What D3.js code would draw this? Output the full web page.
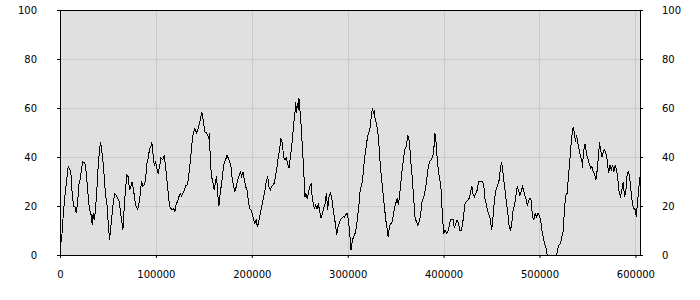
<!DOCTYPE html>
<html>
<head>
<meta charset="utf-8">
<script src="https://cdn.jsdelivr.net/npm/d3@7"></script>
<style>
  body { margin: 0; background: #ffffff; }
  text { font-family: "DejaVu Sans", Verdana, sans-serif; font-size: 10px; fill: #000000; }
</style>
</head>
<body>
<div id="chart"></div>
<script>
// sample positions (x) and readings (y)
var xs = [
  0, 1560, 2960, 5040, 7130, 8520, 9910, 11300, 12700, 14100, 15500, 16900, 18300, 19700, 21000, 22400,
  23800, 25200, 26600, 28000, 29400, 30800, 32200, 33600, 34600, 35700, 37000, 38400, 39800, 41200, 42300,
  43300, 44700, 46100, 47500, 48900, 50300, 51700, 53000, 54400, 55800, 57200, 58600, 60000, 61400, 62800,
  64200, 65600, 67000, 68400, 69700, 71100, 72500, 73900, 75300, 76700, 78100, 79500, 80900, 82300, 83700,
  85000, 86400, 87800, 89200, 90600, 92000, 93400, 94800, 95800, 96900, 98300, 99700, 101000, 102400, 103800,
  105200, 107300, 108700, 110100, 111500, 112900, 114300, 115600, 117000, 118400, 119800,
  121200, 122600, 124000, 125400, 126800, 128200, 129600, 131000, 132400, 133700, 135100, 136500, 137900,
  139300, 140700, 142100, 143500, 144900, 146300, 147700, 148700, 149700, 151100, 152500, 153900, 155300,
  156000, 156700, 158100, 159500, 160900, 162300, 163300, 164400, 165700, 167100, 168500, 169900, 171300,
  172700, 174100, 175500, 176900, 178300, 179700, 181100, 182400, 183800, 185200, 186600, 188000, 189400,
  190800, 192200, 193600, 195000, 196400, 197700, 199100, 200500, 201900, 203300, 204700, 205700, 206800,
  208200, 209600, 211000, 212400, 213700, 215100, 216500, 217900, 219300, 220700, 222100, 223500, 224900,
  226300, 227700, 229100, 230400, 231800, 233200, 234600, 236000, 237400, 238800,
  240900, 242300, 243700, 245100, 245800, 246400, 247500, 248500, 249200, 249900, 251300, 252700, 254100,
  254800, 255500, 256200, 257600, 259000, 260400, 261800, 262500, 263800, 265200, 266600, 268000, 269400,
  270800, 272200, 273600, 275000, 276400, 277800, 279100, 280500, 281900, 283300, 284700, 286100, 287500,
  288500, 289600, 291000, 292400, 293800, 295100, 296500, 297900, 299300, 300700, 302100, 303500, 304900,
  306300, 307700, 309100, 310400, 311800, 313200, 314600, 316000, 317400, 318800, 320200, 321600, 323000,
  324400, 325800, 326800, 327800, 328500, 329900, 331300, 332700, 334100, 335500, 336900, 338300, 339700,
  341100, 342100, 343100, 344500, 345900, 347300, 348700, 350100, 351500, 352900, 354300, 355700, 357100,
  358500, 359800, 361200, 362600,
  363700, 364700, 366100, 367500, 368900, 370300, 371700, 373100, 374400, 375800, 377200, 378600, 380000,
  381400, 382800, 384200, 385600, 387000, 388400, 389700, 390800, 391800, 393200, 394600, 396000, 397400,
  398800, 400200, 401600, 403000, 404400, 405700, 407100, 408500, 409900, 411300, 412700, 414100, 415500,
  416900, 418300, 419700, 421100, 422400, 423800, 425200, 426600, 428000, 429400, 430800, 432200, 433600,
  435000, 436400, 437700, 439100, 440500, 441900, 443300, 444700, 446100, 447500, 448900, 449900, 451000,
  452400, 453700, 455100, 456500, 457900, 459300, 460400, 461400, 462800, 464200, 465600, 467000, 468400,
  469800, 471100, 472500, 473900, 475300, 476700, 478100, 479500, 480900, 482300, 483700,
  484400, 485800, 487200, 488500, 489900, 491300, 492700, 494100, 495500, 496900, 498300, 499700, 501100,
  502500, 503800, 505200, 506600, 508000, 509400, 510800, 512200, 513600, 515000, 516400, 517800, 519200,
  520500, 521900, 523300, 524700, 526100, 527500, 528900, 530300, 531700, 533100, 534500, 535500, 536500,
  537600, 538600, 540000, 541400, 542800, 544200, 544900, 545600, 547000, 548000, 549100, 550500, 551800,
  553200, 554600, 556000, 557400, 558800, 560200, 561600, 562600, 563700, 565100, 566500, 567800, 569200,
  570600, 572000, 573400, 574800, 576200, 577600, 579000, 580400, 581800, 583200, 584500, 585900, 587300,
  588700, 590100, 591500, 592900, 594300, 595700, 597100, 598500, 599900, 600900, 602000, 603400, 604800
];

var ys = [
  4.8, 5.4, 14, 24, 31, 36, 35, 34, 25, 20, 20, 17, 21, 28.6, 31, 35,
  38, 37.7, 36.7, 30.6, 23.8, 18.4, 17, 12.2, 17, 14.3, 18.4, 26.5, 36, 42.9, 45.9,
  43.5, 38.8, 32, 24.5, 21, 12.9, 6.1, 11.6, 17, 22.4, 24.9, 24.5, 23, 22.4, 18.4,
  14.3, 10.2, 19.7, 27.2, 32.7, 32, 26.5, 27.9, 29.9, 26.5, 22.4, 19.7, 18.6, 21, 25,
  30, 28, 28.6, 30.6, 37.4, 39.5, 43.5, 44.2, 45.9, 41.5, 36.7, 38, 35.4, 33.3, 36,
  39.5, 39, 40.8, 36, 30.6, 25.2, 19.7, 19, 18.4, 19, 17.7,
  21, 21.8, 23.8, 25.2, 24, 25.2, 26.5, 28.2, 28.6, 30.6, 35.4, 40.8, 46.9,
  50.3, 51.7, 49.7, 51, 53, 55.1, 58.5, 57.1, 53.7, 50.3, 49.9, 49, 47.6,
  49.7, 38.1, 32, 29.3, 26.5, 30.6, 32, 25.2, 20, 25.2, 29.3, 34, 38,
  38.8, 40.8, 39.5, 38, 36, 30.6, 27.9, 25.9, 27.9, 30.6, 32, 34, 32,
  34, 30.6, 27.9, 26.5, 22.4, 19, 18.4, 17, 14.3, 12.9, 14.6, 11.3, 12.9,
  15.6, 18.4, 21, 23.8, 26.5, 29.9, 32, 27.9, 26.5, 27.9, 28.6, 29.3, 32.7,
  36, 40.1, 43.5, 47.6, 45.6, 40.1, 38.8, 39.5, 37.4, 35.4,
  42.2, 46.9, 53.7, 58.5, 62.6, 57.8, 61.9, 59.2, 64, 60.5, 53.7, 44.2, 35.4,
  27.9, 23.8, 25.2, 23.1, 25.2, 27.9, 29, 25.2, 21.8, 19, 20.4, 19, 21,
  17.7, 15, 17, 19, 21, 25.2, 18.4, 23.8, 25.2, 23.8, 19, 15.6, 11.6,
  8.2, 10.9, 12.9, 14.3, 15, 15.6, 15.4, 16.3, 17, 14.3, 8.8, 2, 6.1,
  7.5, 8.8, 11.6, 15.6, 21, 27.2, 28.6, 32.7, 38.8, 42.9, 46.9, 49.7, 51,
  55.8, 59.9, 57.8, 58.5, 55.8, 53.7, 51, 44.2, 36, 30.6, 25.2, 19.7, 14.3,
  10.9, 7.5, 10.2, 12.9, 12.9, 15.6, 19, 21, 23.1, 20.4, 25.2, 30.6, 36,
  40.1, 43.5, 44.2, 49,
  47.6, 44.2, 36.7, 30.6, 22.4, 15, 13.6, 12.2, 13.6, 15.6, 21, 23.1, 24.5,
  27.9, 32, 36.7, 38.1, 39, 39.9, 42.2, 49.7, 47.6, 40.1, 34, 31.3, 26.5,
  15.6, 8.8, 10.2, 8.8, 9.5, 11.6, 14.3, 14.3, 14.3, 10.9, 12.7, 14.3, 12.9,
  10.2, 10.2, 12.2, 17, 21, 21.8, 22.4, 23.1, 25.2, 28.2, 24.5, 23.8, 25.2,
  26.5, 29.9, 30.2, 30.2, 30.2, 28.6, 22.4, 20.4, 17.7, 16.3, 14.3, 10.2, 12.9,
  19.7, 24.5, 27.2, 28.6, 30.6, 35.4, 38.1, 35.4, 30.6, 25.9, 21, 17, 11.6,
  10.2, 12.9, 18.4, 20.4, 23.8, 27.9, 26.5, 24.5, 25.9, 27.9, 25.9,
  24.5, 23.1, 20.4, 21.8, 23.1, 22.4, 15.6, 14.3, 17, 15.6, 17, 16.3, 14.3,
  10.2, 7.5, 4.8, 3.4, 0, 0, 0, 0, 0, 0, 0, 0, 2.7,
  4.1, 4.8, 7.5, 9.5, 19, 24.5, 25.2, 32.7, 38.8, 46.3, 51, 52.4, 49,
  46.3, 49, 45.6, 42.9, 40.1, 38.8, 35.4, 40.8, 44.9, 44.9, 40.8, 39.5, 37.4,
  35.4, 36, 34, 33.3, 30.6, 34.7, 40.8, 45.9, 42.9, 40.1, 42.2, 42.9, 41.5,
  38.8, 33.3, 36.7, 34.7, 36.7, 34, 36.7, 34.7, 30.6, 25.2, 23.8, 26.5, 29.9,
  23.8, 26.5, 33.3, 34, 30.6, 25.2, 20.4, 19, 18.4, 15.6, 20.4, 26.5, 32
];

var xTicks = [0, 100000, 200000, 300000, 400000, 500000, 600000];
var yTicks = [0, 20, 40, 60, 80, 100];

var svgWidth = 700;
var svgHeight = 300;

var margin = { top: 10, right: 60, bottom: 45, left: 60 };

var width = svgWidth - margin.left - margin.right;
var height = svgHeight - margin.top - margin.bottom;

var svg = d3.select("#chart")
  .append("svg")
  .attr("width", svgWidth)
  .attr("height", svgHeight);

var chartGroup = svg.append("g")
  .attr("transform", `translate(${margin.left}, ${margin.top})`);

var data = xs.map((x, i) => ({ x: x, y: ys[i] }));

// scales
var xScale = d3.scaleLinear()
  .domain([0, d3.max(xs)])
  .range([0, width]);

var yScale = d3.scaleLinear()
  .domain([0, 100])
  .range([height, 0]);

// plot background
chartGroup.append("rect")
  .attr("width", width)
  .attr("height", height)
  .attr("fill", "#e0e0e0");

// grid lines
chartGroup.append("g")
  .selectAll("line.vgrid")
  .data(xTicks)
  .enter()
  .append("line")
  .attr("x1", d => Math.round(xScale(d)) + 0.5)
  .attr("x2", d => Math.round(xScale(d)) + 0.5)
  .attr("y1", 0)
  .attr("y2", height)
  .attr("stroke", "#cacaca");

chartGroup.append("g")
  .selectAll("line.hgrid")
  .data(yTicks)
  .enter()
  .append("line")
  .attr("x1", 0)
  .attr("x2", width)
  .attr("y1", d => Math.round(yScale(d)) + 0.5)
  .attr("y2", d => Math.round(yScale(d)) + 0.5)
  .attr("stroke", "#cacaca");

// the series
var line = d3.line()
  .x(d => xScale(d.x))
  .y(d => yScale(d.y));

chartGroup.append("path")
  .datum(data)
  .attr("d", line)
  .attr("fill", "none")
  .attr("stroke", "#000000")
  .attr("stroke-width", 1)
  .style("shape-rendering", "crispEdges");

// axes
var bottomAxis = d3.axisBottom(xScale)
  .tickValues(xTicks)
  .tickFormat(d3.format("d"))
  .tickSizeOuter(0)
  .tickSize(3)
  .tickPadding(13);

var leftAxis = d3.axisLeft(yScale)
  .tickValues(yTicks)
  .tickSizeOuter(0)
  .tickSize(3)
  .tickPadding(20);

var rightAxis = d3.axisRight(yScale)
  .tickValues(yTicks)
  .tickSizeOuter(0)
  .tickSize(3)
  .tickPadding(19);

chartGroup.append("g")
  .attr("transform", `translate(0, ${height})`)
  .call(bottomAxis);

chartGroup.append("g")
  .call(leftAxis);

chartGroup.append("g")
  .attr("transform", `translate(${width}, 0)`)
  .call(rightAxis);

chartGroup.selectAll(".domain").remove();
chartGroup.selectAll(".tick line").attr("stroke", "#000000");
chartGroup.selectAll(".tick text")
  .attr("fill", "#000000")
  .style("font-family", "'DejaVu Sans', Verdana, sans-serif")
  .style("font-size", "10px");

// black frame round the plot
chartGroup.append("rect")
  .attr("x", 0.5)
  .attr("y", 0.5)
  .attr("width", width - 0.5)
  .attr("height", height)
  .attr("fill", "none")
  .attr("stroke", "#000000")
  .style("shape-rendering", "crispEdges");
</script>
</body>
</html>
